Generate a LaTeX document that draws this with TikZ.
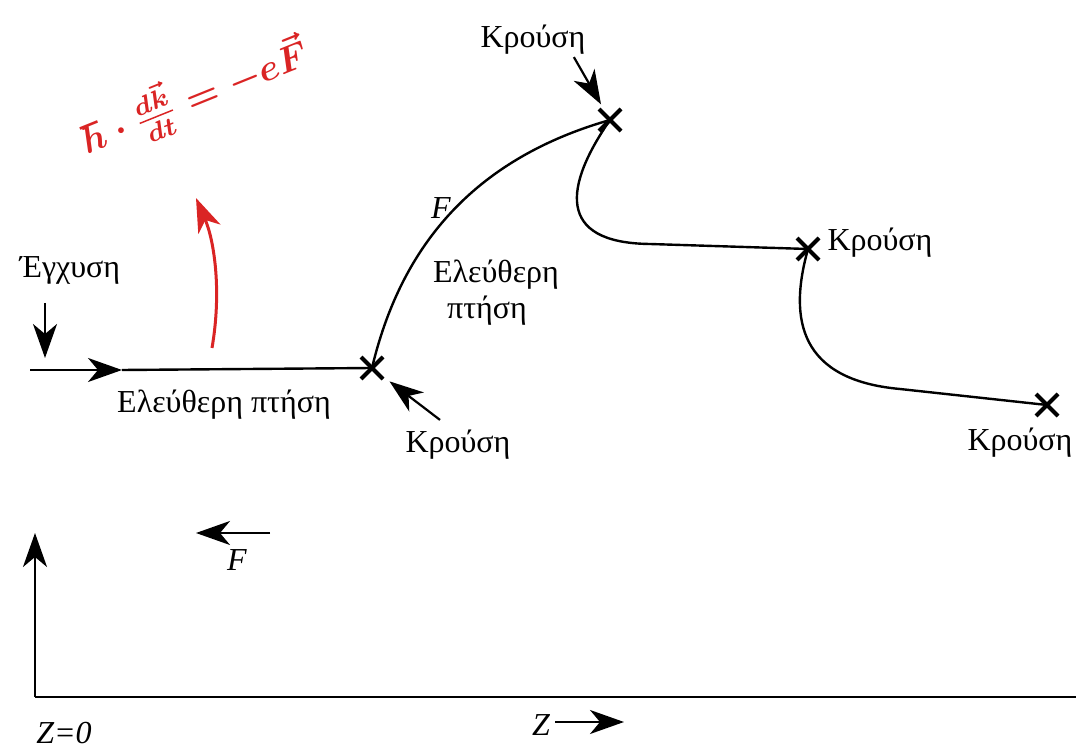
\documentclass[tikz,border=0pt]{standalone}
\usepackage{fontspec}
\setmainfont{Liberation Serif}
\usepackage{amsmath}
\usetikzlibrary{arrows.meta,positioning,shapes.misc}

\definecolor{pen}{RGB}{218,36,36}

\tikzset{
  hit/.style={cross out,draw,line width=2pt,minimum size=9pt,inner sep=0pt},
  lbl/.style={font=\fontsize{16}{19}\selectfont,inner sep=1pt},
  ilbl/.style={font=\fontsize{16}{19}\selectfont\itshape,inner sep=1pt},
  arr/.style={-{Stealth[length=17pt,width=12pt,inset=5pt]},line width=1.1pt},
  traj/.style={line width=1.2pt}
}

\begin{document}
\begin{tikzpicture}[x=0.5pt,y=-0.5pt]
\useasboundingbox (0,0) rectangle (1076,748);
% Collisions
\node[hit] (c1) at (372,368) {};
\node[hit] (c2) at (610,120) {};
\node[hit] (c3) at (808,249) {};
\node[hit] (c4) at (1047,405) {};
% Labels
\node[lbl] (inj) at (70,270) {Έγχυση};
\node[lbl] (free1) at (224,405) {Ελεύθερη πτήση};
\node[lbl] (k1) at (458,445) {Κρούση};
\node[lbl] (k2) at (533,40) {Κρούση};
\node[lbl] (k3) at (880,243) {Κρούση};
\node[lbl] (k4) at (1020,443) {Κρούση};
\node[ilbl] (fcurve) at (441,208) {F};
\node[lbl] (free2a) at (496,275) {Ελεύθερη};
\node[lbl] (free2b) at (487,311) {πτήση};
% Injection and first free flight
\coordinate (inA) at (45,303);
\coordinate (inB) at (45,358);
\draw[arr] (inA) -- (inB);
\coordinate (start) at (30,370);
\coordinate (mid) at (122,370);
\draw[arr] (start) -- (mid);
\draw[traj] (mid) -- (c1.center);
% Trajectory between collisions
\draw[traj] (c1.center) .. controls (400,250) and (470,160) .. (c2.center);
\draw[traj] (c2.center) .. controls (565,185) and (555,243) .. (650,244) -- (c3.center);
\draw[traj] (c3.center) .. controls (788,320) and (800,380) .. (900,389) -- (c4.center);
% Pointers to collisions
\draw[arr,shorten >=11pt] ([xshift=-9pt,yshift=4pt]k1.north) -- (c1.center);
\draw[arr,shorten >=9pt] ([xshift=-7pt]k2.south east) -- (c2.center);
% Force
\coordinate (fA) at (270,533);
\coordinate (fB) at (196,533);
\draw[arr] (fA) -- (fB);
\node[ilbl] (flab) at (237,560) {F};
% Axes
\coordinate (O) at (35,697);
\coordinate (yend) at (35,533);
\coordinate (xend) at (1076,697);
\draw[arr] (O) -- (yend);
\draw[line width=1.2pt] (O) -- (xend);
\node[ilbl] (z0) at (64,733) {Z=0};
\node[ilbl] (zlab) at (541,725) {Z};
\coordinate (zA) at (555,722);
\coordinate (zB) at (624,722);
\draw[arr] (zA) -- (zB);
% Handwritten note
\node[pen,rotate=22] (eqn) at (196,96)
  {\scalebox{1.85}{\boldmath$\hbar\cdot\frac{d\vec{k}}{dt}=-e\vec{F}$}};
\coordinate (rA) at (212,348);
\coordinate (rB) at (196,198);
\draw[arr,pen,line width=1.5pt] (rA) .. controls (222,290) and (214,240) .. (rB);
\end{tikzpicture}
\end{document}
